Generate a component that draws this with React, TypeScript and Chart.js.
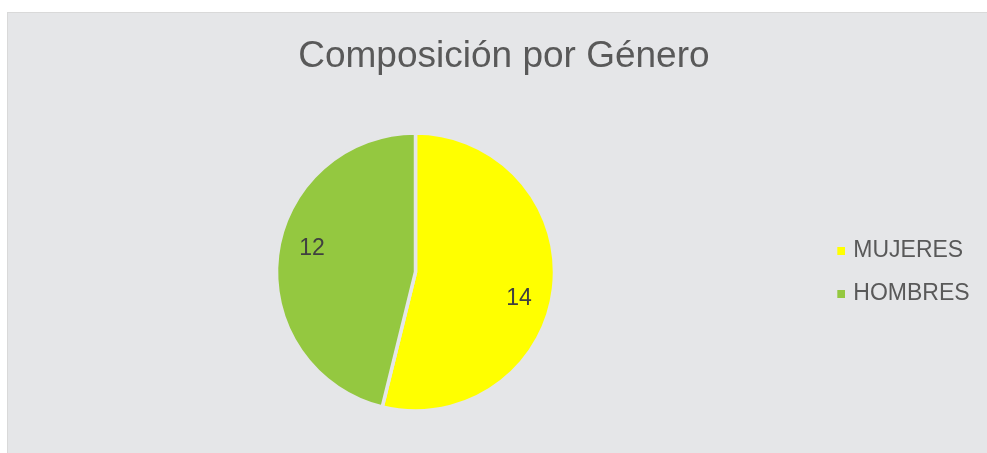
import React, { useEffect, useRef } from "react";
import { Chart, registerables } from "chart.js";

Chart.register(...registerables);

const titleText = "Composición por Género";
const categories = ["MUJERES", "HOMBRES"];
const values = [14, 12];
const sliceColors = ["#FFFF00", "#94C840"];

const FONT = '"Liberation Sans", Arial, Helvetica, sans-serif';
const PANEL = "#e5e6e8";

// legend marker: small square drawn at the right end of a wider transparent tile
function makeMarker(color: string): HTMLCanvasElement {
  const c = document.createElement("canvas");
  c.width = 26;
  c.height = 9;
  const g = c.getContext("2d");
  if (g) {
    g.fillStyle = color;
    g.fillRect(18, 1, 8, 8);
  }
  return c;
}

export default function App() {
  const ref = useRef<HTMLCanvasElement | null>(null);

  useEffect(() => {
    document.body.style.margin = "0";
    const canvas = ref.current;
    if (!canvas) return;

    const bgPlugin = {
      id: "panelBg",
      beforeDraw(chart: any) {
        const { ctx, width, height } = chart;
        ctx.save();
        ctx.fillStyle = "#ffffff";
        ctx.fillRect(0, 0, width, height);
        ctx.fillStyle = "#d9d9d9";
        ctx.fillRect(7, 12, width - 7, height - 12);
        ctx.fillStyle = PANEL;
        ctx.fillRect(8, 13, width - 8, height - 13);
        ctx.restore();
      },
    };

    const labelPlugin = {
      id: "sliceLabels",
      afterDatasetsDraw(chart: any) {
        const ctx = chart.ctx;
        const meta = chart.getDatasetMeta(0);
        const data = chart.data.datasets[0].data;
        const size = 23;
        ctx.save();
        ctx.font = `${size}px ${FONT}`;
        ctx.fillStyle = "#404040";
        ctx.textAlign = "center";
        ctx.textBaseline = "alphabetic";
        meta.data.forEach((arc: any, i: number) => {
          const p = arc.getProps(["x", "y", "startAngle", "endAngle", "outerRadius"], true);
          const a = (p.startAngle + p.endAngle) / 2 + (6.7 * Math.PI) / 180;
          const r = p.outerRadius * 0.766;
          ctx.fillText(String(data[i]), p.x + Math.cos(a) * r, p.y + Math.sin(a) * r + size * 0.358);
        });
        ctx.restore();
      },
    };

    const baseGen = (Chart as any).overrides.doughnut.plugins.legend.labels.generateLabels;

    const chart = new Chart(canvas, {
      type: "pie",
      data: {
        labels: categories,
        datasets: [
          {
            data: values,
            backgroundColor: sliceColors,
            borderColor: PANEL,
            borderWidth: 3.5,
            radius: 139,
          } as any,
        ],
      },
      options: {
        responsive: false,
        animation: false,
        layout: { padding: { left: 28.2, right: 7.4, top: 0, bottom: 0 } },
        plugins: {
          tooltip: { enabled: false },
          title: {
            display: true,
            text: titleText,
            color: "#595959",
            font: { family: FONT, size: 37, weight: "normal" },
            padding: { top: 35, bottom: 11.6 },
          },
          legend: {
            display: true,
            position: "right",
            fullSize: false,
            align: "center",
            labels: {
              color: "#595959",
              font: { family: FONT, size: 23 },
              usePointStyle: true,
              pointStyle: "rect",
              boxWidth: 19,
              boxHeight: 8,
              padding: 20,
              generateLabels: (c: any) =>
                baseGen(c).map((l: any) => ({
                  ...l,
                  lineWidth: 0,
                  strokeStyle: "rgba(0,0,0,0)",
                  pointStyle: makeMarker(l.fillStyle),
                })),
            },
          },
        },
      } as any,
      plugins: [bgPlugin, labelPlugin],
    });

    return () => chart.destroy();
  }, []);

  return (
    <div style={{ width: 987, height: 453 }}>
      <canvas ref={ref} width={987} height={453} style={{ display: "block", width: 987, height: 453 }} />
    </div>
  );
}
